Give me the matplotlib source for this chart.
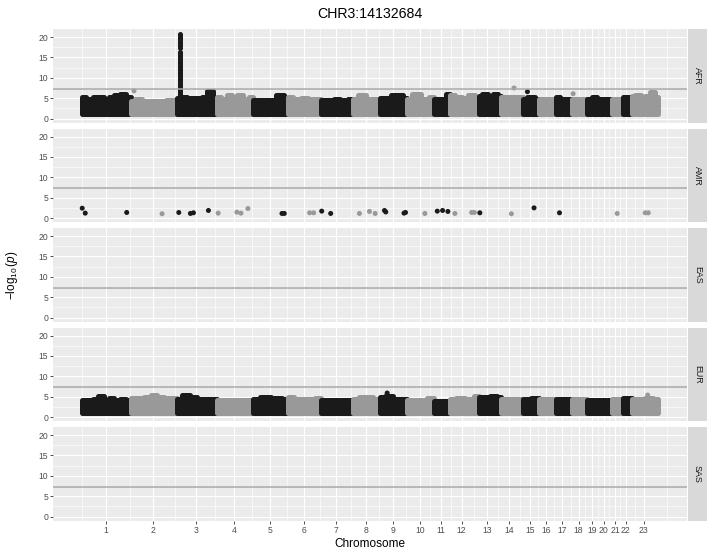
import numpy as np
import matplotlib
matplotlib.use("Agg")
import matplotlib.pyplot as plt

plt.rcParams['font.family'] = ['Liberation Sans', 'DejaVu Sans']
plt.rcParams['mathtext.fontset'] = 'custom'
plt.rcParams['mathtext.rm'] = 'Liberation Sans'
plt.rcParams['mathtext.it'] = 'Liberation Sans:italic'

# ---------------- data ----------------
title = "CHR3:14132684"
populations = ["AFR", "AMR", "EAS", "EUR", "SAS"]
chrom_labels = [str(i) for i in range(1, 24)]
# cumulative chromosome start positions (Mb) and end of last chromosome
chrom_start = [0.0, 254.9, 501.3, 708.7, 900.3, 1085.0, 1257.5, 1424.8, 1567.3,
               1712.9, 1853.8, 1939.8, 2091.3, 2208.9, 2323.5, 2406.3, 2496.0,
               2582.0, 2657.5, 2713.9, 2789.4, 2851.2, 2894.9]
genome_end = 3035.9
# x tick positions (chromosome centres, Mb)
chrom_tick = [125.6, 373.6, 600.5, 801.0, 988.4, 1170.4, 1339.3, 1496.0, 1636.4,
              1778.9, 1888.1, 1998.9, 2134.5, 2248.5, 2359.3, 2445.9, 2530.3,
              2614.7, 2684.9, 2746.7, 2806.3, 2864.3, 2957.7]
chrom_color = ["black", "grey", "black", "grey", "black", "grey", "black", "grey",
               "black", "grey", "black", "grey", "black", "grey", "black", "grey",
               "black", "grey", "black", "black", "grey", "black", "grey"]
gw_threshold = -np.log10(5e-8)
y_floor = 1.05   # lowest -log10(p) shown in the dense clouds

# upper envelope of the dense point clouds, per chromosome (-log10 p)
afr_env = [
    [5.3, 4.9, 5.3, 5.4, 4.9, 5.3, 5.7, 6.0, 5.3],
    [4.3, 4.9, 4.3, 4.2, 4.3, 4.4, 4.6, 4.6],
    [5.1, 5.4, 5.1, 5.0, 5.1, 5.2, 6.7, 5.0],
    [5.4, 4.7, 5.9, 4.7, 5.9, 4.7, 5.3],
    [4.5, 4.5, 4.6, 4.5, 5.7, 4.5],
    [5.3, 4.9, 5.1, 4.9, 4.9],
    [4.5, 4.5, 4.9, 4.5, 4.9],
    [4.9, 5.7, 4.9, 4.9],
    [5.1, 5.1, 5.7, 5.7, 5.1],
    [4.9, 6.0, 4.9, 5.3],
    [4.9, 4.9, 6.1],
    [5.7, 5.2, 5.0, 5.7, 5.2],
    [5.5, 6.0, 5.5, 6.1, 5.5],
    [5.3, 5.3, 5.3, 5.3],
    [4.9, 5.3, 4.9],
    [4.9, 4.9, 4.9],
    [5.3, 4.9, 4.9],
    [4.9, 4.9],
    [4.9, 5.3],
    [4.9],
    [4.9, 4.9],
    [5.3],
    [5.6, 5.9, 5.3, 5.5, 6.5, 5.3],
]
eur_env = [
    [4.1, 4.1, 4.5, 5.1, 4.3, 4.7, 4.3, 4.5, 4.1],
    [4.6, 4.6, 4.9, 5.3, 4.9, 4.6, 4.6],
    [4.5, 5.3, 4.9, 4.5, 4.5, 4.5],
    [4.3, 4.3, 4.3, 4.3],
    [4.5, 4.9, 4.7, 4.5],
    [4.9, 4.5, 4.5, 4.7],
    [4.3, 4.3, 4.3, 4.3],
    [4.5, 4.9, 4.5],
    [4.9, 5.1, 4.5, 4.5],
    [4.3, 4.3, 4.7],
    [4.0, 4.0],
    [4.5, 4.7, 4.5, 5.1],
    [4.9, 4.9, 5.1, 4.9],
    [4.5, 4.5, 4.5],
    [4.5, 4.7],
    [4.5, 4.5],
    [4.5, 4.5],
    [4.5, 4.5],
    [4.1, 4.1],
    [4.1],
    [4.5],
    [4.7],
    [4.5, 4.5, 4.7, 4.5],
]

# individual SNPs standing out (cumulative Mb, chromosome, -log10 p)
afr_pts_pos = [273.4, 2275.0, 2345.7, 2586.3]
afr_pts_chr = [2, 14, 15, 18]
afr_pts_val = [6.8, 7.5, 6.6, 6.1]
# lead SNP column at chr3:14132684
afr_tower_pos = 501.3 + 14.13
afr_tower_val = [5.2, 5.5, 5.8, 6.1, 6.4, 6.7, 7.0, 7.3, 7.6, 7.9, 8.2, 8.5,
                 8.8, 9.1, 9.4, 9.7, 10.0, 10.3, 10.6, 10.9, 11.2, 11.5, 11.8,
                 12.1, 12.4, 12.7, 13.0, 13.3, 13.6, 13.9, 14.2, 14.5, 14.8,
                 15.1, 15.4, 15.7, 16.0, 16.3, 17.4, 17.7, 18.0, 18.3, 18.6,
                 18.9, 19.2, 19.5, 19.8, 20.1, 20.4, 20.7]

eur_pts_pos = [1606.8, 2978.9]
eur_pts_chr = [9, 23]
eur_pts_val = [5.9, 5.4]

amr_pos = [0.5, 16.4, 234.8, 421.1, 509.2, 570.4, 586.3, 665.4, 716.6, 815.3,
           836.4, 873.3, 1052.7, 1064.9, 1198.4, 1219.5, 1262.0, 1309.2, 1460.7,
           1513.4, 1543.5, 1592.6, 1599.5, 1695.5, 1703.4, 1805.3, 1870.7, 1898.7,
           1926.7, 1963.6, 2051.7, 2066.0, 2095.0, 2261.2, 2380.4, 2514.5, 2818.5,
           2966.2, 2982.0]
amr_chr = [1, 1, 1, 2, 3, 3, 3, 3, 4, 4, 4, 4, 5, 5, 6, 6, 7, 7, 8, 8, 8, 9, 9, 9, 9,
           10, 11, 11, 11, 12, 12, 12, 13, 14, 15, 17, 21, 23, 23]
amr_val = [2.42, 1.21, 1.37, 1.05, 1.37, 1.13, 1.29, 1.86, 1.21, 1.45, 1.21, 2.34,
           1.13, 1.13, 1.29, 1.29, 1.70, 1.13, 1.13, 1.62, 1.13, 1.86, 1.50, 1.21,
           1.37, 1.13, 1.70, 1.86, 1.62, 1.13, 1.37, 1.37, 1.29, 1.05, 2.50, 1.29,
           1.13, 1.29, 1.29]

# ---------------- style ----------------
COL = {"black": "#1a1a1a", "grey": "#999999"}
W, H = 717, 555
PT_PX = 100 / 72.0
point_d_px = 5.0
point_s = (point_d_px / PT_PX) ** 2
stroke_lw = point_d_px / PT_PX

fig = plt.figure(figsize=(W / 100, H / 100), dpi=100)

left_px, right_px = 53.3, 687.3
top0_px, pitch_px, ph_px = 29.3, 99.5, 93.5
ylim = (-1.04, 21.9)
xr = genome_end - 0.0
xlim = (0.0 - 0.05 * xr, genome_end + 0.05 * xr)

b = list(chrom_tick)
bd = b[1] - b[0]
ext = [b[0] - bd] + b + [b[-1] + bd]
x_minor = [(ext[i] + ext[i + 1]) / 2 for i in range(len(ext) - 1)]
y_major = [0, 5, 10, 15, 20]
y_minor = [2.5, 7.5, 12.5, 17.5]

chrom_end = chrom_start[1:] + [genome_end]


def draw_clouds(ax, env):
    for i, e in enumerate(env):
        c = COL[chrom_color[i]]
        xs = np.linspace(chrom_start[i], chrom_end[i], len(e) + 1)
        xs = (xs[:-1] + xs[1:]) / 2
        if len(e) == 1:
            xs = np.array([chrom_start[i], chrom_end[i]])
            e = [e[0], e[0]]
        else:
            xs[0] = chrom_start[i]
            xs[-1] = chrom_end[i]
        ax.fill_between(xs, y_floor, e, step="mid", facecolor=c, edgecolor=c,
                        linewidth=stroke_lw, joinstyle="round", zorder=3)


def pts(ax, pos, chrs, vals):
    ax.scatter(pos, vals, s=point_s, c=[COL[chrom_color[k - 1]] for k in chrs],
               linewidths=0, zorder=4)


for i, pop in enumerate(populations):
    top = top0_px + i * pitch_px
    ax = fig.add_axes([left_px / W, 1 - (top + ph_px) / H,
                       (right_px - left_px) / W, ph_px / H])
    ax.set_facecolor("#ebebeb")
    ax.set_xlim(*xlim)
    ax.set_ylim(*ylim)
    for s in ax.spines.values():
        s.set_visible(False)
    ax.set_xticks(chrom_tick)
    ax.set_xticks(x_minor, minor=True)
    ax.set_yticks(y_major)
    ax.set_yticks(y_minor, minor=True)
    ax.grid(which="major", color="white", linewidth=0.85, zorder=0)
    ax.grid(which="minor", color="white", linewidth=0.45, zorder=0)
    ax.set_axisbelow(True)
    ax.tick_params(which="minor", length=0)
    ax.tick_params(which="major", length=2.2, width=0.6, color="#333333",
                   labelsize=6.2, labelcolor="#4d4d4d", pad=1.5)
    ax.set_yticklabels([str(v) for v in y_major])
    if i == len(populations) - 1:
        ax.set_xticklabels(chrom_labels)
    else:
        ax.tick_params(axis="x", which="major", length=0, labelbottom=False)

    ax.axhline(gw_threshold, color="#a8a8a8", linewidth=1.1, zorder=5)

    if pop == "AFR":
        draw_clouds(ax, afr_env)
        ax.scatter([afr_tower_pos] * len(afr_tower_val), afr_tower_val, s=point_s,
                   c=COL["black"], linewidths=0, zorder=4)
        pts(ax, afr_pts_pos, afr_pts_chr, afr_pts_val)
    elif pop == "EUR":
        draw_clouds(ax, eur_env)
        pts(ax, eur_pts_pos, eur_pts_chr, eur_pts_val)
    elif pop == "AMR":
        pts(ax, amr_pos, amr_chr, amr_val)

    sax = fig.add_axes([688.0 / W, 1 - (top + ph_px) / H, 18.5 / W, ph_px / H])
    sax.set_facecolor("#d9d9d9")
    sax.set_xticks([])
    sax.set_yticks([])
    for s in sax.spines.values():
        s.set_visible(False)
    sax.text(0.5, 0.5, pop, rotation=270, ha="center", va="center",
             fontsize=6.4, color="#1a1a1a", transform=sax.transAxes)

fig.text((left_px + right_px) / 2 / W, 1 - 14 / H, title, ha="center",
         va="center", fontsize=10.2, color="#000000")
fig.text((left_px + right_px) / 2 / W, 1 - 544 / H, "Chromosome", ha="center",
         va="center", fontsize=8.5, color="#000000")
fig.text(12 / W, 1 - (top0_px + 4 * pitch_px + ph_px + top0_px) / 2 / H,
         r"$-\log_{10}(\mathit{p})$", rotation=90, ha="center", va="center",
         fontsize=8.5, color="#000000")

fig.savefig("out.png", dpi=100)
